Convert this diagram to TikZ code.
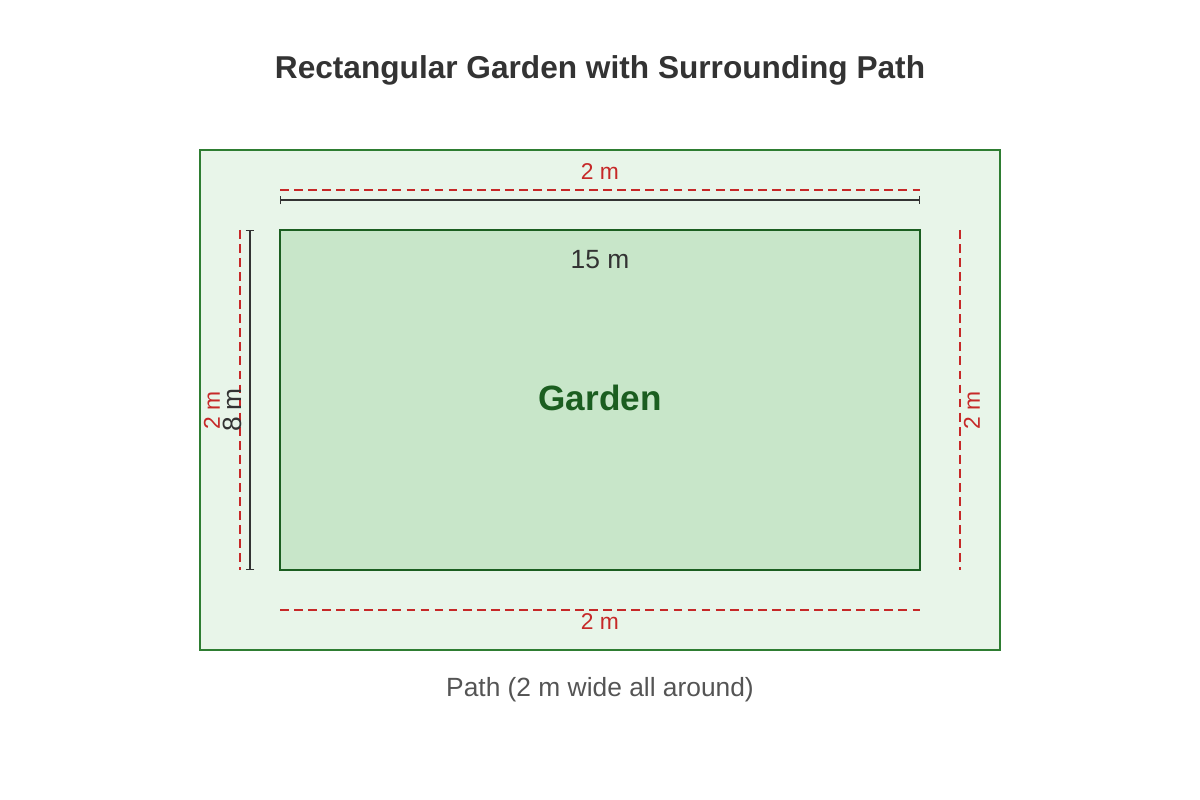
\documentclass[tikz,border=0pt]{standalone}
\usepackage{fontspec}
\setmainfont{Liberation Sans}
\usetikzlibrary{arrows.meta}
\definecolor{pathfill}{HTML}{E8F5E9}
\definecolor{pathline}{HTML}{2E7D32}
\definecolor{gardenfill}{HTML}{C8E6C9}
\definecolor{gardenline}{HTML}{1B5E20}
\definecolor{widthred}{HTML}{C62828}
\definecolor{textdark}{HTML}{333333}
\tikzset{
  widthline/.style={widthred,dashed,line width=0.8pt,dash pattern=on 5pt off 3pt},
  dimline/.style={textdark,line width=0.8pt,{Bar[width=5pt]}-{Bar[width=5pt]}},
  widthlabel/.style={widthred,font=\fontsize{13}{15}\selectfont},
}
\begin{document}
\begin{tikzpicture}[x=0.02cm,y=-0.02cm]
      \useasboundingbox (0,0) rectangle (1200,800);

      \node[font=\bfseries\fontsize{18}{22}\selectfont,text=textdark](title) at (600, 70) {Rectangular Garden with Surrounding Path};

      \draw[pathline,fill=pathfill,line width=1.5pt] (200, 150) rectangle (1000, 650);
      \draw[gardenline,fill=gardenfill,line width=1.5pt] (280, 230) rectangle (920, 570);
      \node[font=\bfseries\fontsize{20}{24}\selectfont,text=gardenline](garden) at (600, 398) {Garden};

      \coordinate (tl) at (280, 190);
      \coordinate (tr) at (920, 190);
      \coordinate (bl) at (280, 610);
      \coordinate (br) at (920, 610);
      \coordinate (lt) at (240, 230);
      \coordinate (lb) at (240, 570);
      \coordinate (rt) at (960, 230);
      \coordinate (rb) at (960, 570);

      \draw[widthline] (tl) -- (tr);
      \draw[widthline] (bl) -- (br);
      \draw[widthline] (lt) -- (lb);
      \draw[widthline] (rt) -- (rb);

      \coordinate (wl) at (280, 200);
      \coordinate (wr) at (920, 200);
      \coordinate (ht) at (250, 230);
      \coordinate (hb) at (250, 570);
      \draw[dimline] (wl) -- (wr);
      \draw[dimline] (ht) -- (hb);

      \node[widthlabel](ltop) at (600, 172) {2 m};
      \node[widthlabel](lbot) at (600, 622) {2 m};
      \node[widthlabel,rotate=90](lleft) at (212, 410) {2 m};
      \node[widthlabel,rotate=90](lright) at (972, 410) {2 m};
      \node[text=textdark,font=\fontsize{15}{18}\selectfont](lwidth) at (600, 260) {15 m};
      \node[text=textdark,font=\fontsize{15}{18}\selectfont,rotate=90](lheight) at (232, 410) {8 m};

      \node[text=black!67,font=\fontsize{15}{18}\selectfont](caption) at (600, 690) {Path (2 m wide all around)};
    \end{tikzpicture}
\end{document}
